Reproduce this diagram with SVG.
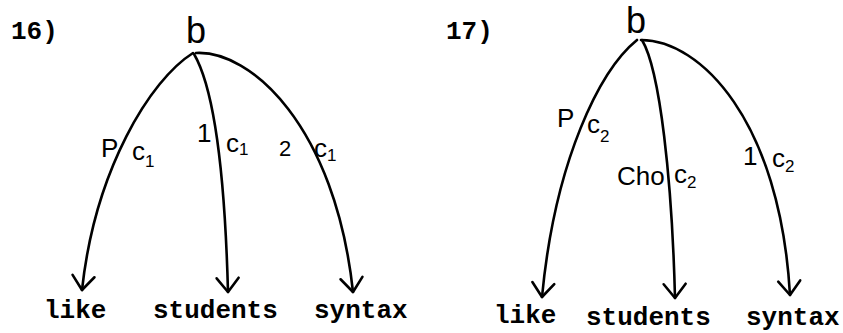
<svg xmlns="http://www.w3.org/2000/svg" width="843" height="333" viewBox="0 0 843 333">
<style>
.tw{font-family:"Liberation Mono",monospace;font-size:26px;font-weight:bold;fill:#000}
.hw{font-family:"Liberation Sans",sans-serif;font-size:26px;fill:#000}
.sub{font-size:17px}
.root{font-family:"Liberation Sans",sans-serif;font-size:36px;fill:#000}
.edge{fill:none;stroke:#000;stroke-width:2.6;stroke-linecap:round;marker-end:url(#ah)}
</style>
<defs>
<marker id="ah" viewBox="-17 -14 20 28" refX="0" refY="0" markerWidth="20" markerHeight="28" markerUnits="userSpaceOnUse" orient="auto" overflow="visible">
<path d="M-14,-11 L0,0 L-14,11" fill="none" stroke="#000" stroke-width="2.6" stroke-linecap="round" stroke-linejoin="round"/>
</marker>
</defs>
<rect width="843" height="333" fill="#fff"/>
<text class="tw" x="11" y="39">16)</text>
<text class="tw" x="446" y="39">17)</text>
<g id="d16-b"><text class="root" x="186" y="43">b</text></g>
<g id="d16-like"><text class="tw" x="44" y="318">like</text></g>
<g id="d16-students"><text class="tw" x="153" y="318">students</text></g>
<g id="d16-syntax"><text class="tw" x="314" y="318">syntax</text></g>
<g id="d17-b"><text class="root" x="626" y="33">b</text></g>
<g id="d17-like"><text class="tw" x="494" y="323">like</text></g>
<g id="d17-students"><text class="tw" x="586" y="325">students</text></g>
<g id="d17-syntax"><text class="tw" x="746" y="325">syntax</text></g>
<g id="connectors">
<path class="edge" d="M193,53 C150,80 95,170 82,290"/>
<path class="edge" d="M194,54 C215,90 225,180 228,292"/>
<path class="edge" d="M196,53 C250,50 335,125 353,292"/>
<path class="edge" d="M637,40 C600,70 555,160 542,297"/>
<path class="edge" d="M642,40 C660,70 672,180 675,298"/>
<path class="edge" d="M641,40 C700,40 780,120 790,295"/>
<g id="labels">
<text class="hw" x="101" y="157">P</text>
<text class="hw" x="132" y="160">c<tspan class="sub" dy="7">1</tspan></text>
<text class="hw" x="197" y="142">1</text>
<text class="hw" x="226" y="152">c<tspan class="sub" dy="3">1</tspan></text>
<text class="hw" x="279" y="156" style="font-size:22px">2</text>
<text class="hw" x="314" y="157">c<tspan class="sub" dy="4">1</tspan></text>
<text class="hw" x="557" y="127">P</text>
<text class="hw" x="587" y="133">c<tspan class="sub" dy="9">2</tspan></text>
<text class="hw" x="617" y="185">Cho</text>
<text class="hw" x="674" y="183">c<tspan class="sub" dy="5">2</tspan></text>
<text class="hw" x="743" y="165">1</text>
<text class="hw" x="772" y="167">c<tspan class="sub" dy="5">2</tspan></text>
</g>
</g>
</svg>
